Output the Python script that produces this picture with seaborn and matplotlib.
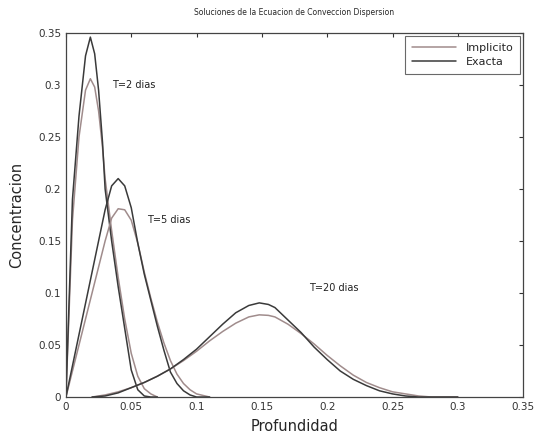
import matplotlib
matplotlib.use("Agg")
import matplotlib.pyplot as plt
import seaborn as sns
import numpy as np

# ---- data ----
x_t2 = [0.0, 0.005, 0.01, 0.015, 0.0187, 0.022, 0.025, 0.028, 0.03, 0.035, 0.04, 0.045, 0.05, 0.055, 0.06, 0.065, 0.07]
exact_t2 = [0.0, 0.19, 0.27, 0.328, 0.346, 0.33, 0.295, 0.245, 0.20, 0.15, 0.106, 0.066, 0.026, 0.007, 0.001, 0.0, 0.0]
impl_t2 = [0.0, 0.17, 0.25, 0.295, 0.306, 0.298, 0.275, 0.24, 0.21, 0.16, 0.115, 0.075, 0.042, 0.02, 0.008, 0.003, 0.0]

x_t5 = [0.0, 0.01, 0.02, 0.03, 0.035, 0.04, 0.045, 0.05, 0.055, 0.06, 0.065, 0.07, 0.075, 0.08, 0.085, 0.09, 0.095, 0.1, 0.11]
exact_t5 = [0.0, 0.06, 0.12, 0.18, 0.203, 0.21, 0.203, 0.182, 0.148, 0.118, 0.093, 0.068, 0.045, 0.024, 0.013, 0.006, 0.002, 0.0, 0.0]
impl_t5 = [0.0, 0.05, 0.10, 0.15, 0.172, 0.181, 0.18, 0.17, 0.148, 0.12, 0.095, 0.072, 0.052, 0.035, 0.022, 0.013, 0.007, 0.003, 0.0]

x_t20 = [0.02, 0.03, 0.04, 0.05, 0.06, 0.07, 0.08, 0.09, 0.10, 0.11, 0.12, 0.13, 0.14, 0.148, 0.155, 0.16, 0.17,
         0.18, 0.19, 0.20, 0.21, 0.22, 0.23, 0.24, 0.25, 0.26, 0.27, 0.28, 0.30]
exact_t20 = [0.0, 0.001, 0.004, 0.009, 0.014, 0.02, 0.027, 0.036, 0.046, 0.058, 0.07, 0.081, 0.088, 0.0905, 0.089,
             0.086, 0.074, 0.062, 0.048, 0.036, 0.025, 0.017, 0.011, 0.006, 0.003, 0.001, 0.0, 0.0, 0.0]
impl_t20 = [0.0, 0.002, 0.005, 0.009, 0.014, 0.02, 0.027, 0.035, 0.044, 0.054, 0.063, 0.071, 0.077, 0.079, 0.0785,
            0.077, 0.07, 0.061, 0.051, 0.04, 0.03, 0.021, 0.014, 0.009, 0.005, 0.003, 0.001, 0.0, 0.0]

curves = [(x_t2, impl_t2, exact_t2), (x_t5, impl_t5, exact_t5), (x_t20, impl_t20, exact_t20)]

labels = [("T=2 dias", 0.035, 0.300), ("T=5 dias", 0.062, 0.170), ("T=20 dias", 0.186, 0.105)]
xticks = [0, 0.05, 0.1, 0.15, 0.2, 0.25, 0.3, 0.35]
xticklabels = ["0", "0.05", "0.1", "0.15", "0.2", "0.25", "0.3", "0.35"]
yticks = [0, 0.05, 0.1, 0.15, 0.2, 0.25, 0.3, 0.35]
yticklabels = ["0", "0.05", "0.1", "0.15", "0.2", "0.25", "0.3", "0.35"]

sns.set_style("white")
plt.rcParams['font.family'] = ['DejaVu Sans']

fig = plt.figure(figsize=(5.36, 4.36), dpi=100)
ax = fig.add_axes([0.123, 0.0894, 0.853, 0.835])

impl_color = "#a08c8c"
exact_color = "#3a3a3a"
for i, (xs, yi, ye) in enumerate(curves):
    sns.lineplot(x=xs, y=yi, ax=ax, color=impl_color, linewidth=1.1, sort=False,
                 label="Implicito" if i == 0 else None)
    sns.lineplot(x=xs, y=ye, ax=ax, color=exact_color, linewidth=1.1, sort=False,
                 label="Exacta" if i == 0 else None)

for txt, tx, ty in labels:
    ax.text(tx, ty, txt, fontsize=7, color="#222222", va="center", ha="left")

ax.set_xlim(0, 0.35)
ax.set_ylim(0, 0.35)
ax.set_xticks(xticks)
ax.set_xticklabels(xticklabels)
ax.set_yticks(yticks)
ax.set_yticklabels(yticklabels)
ax.tick_params(direction="in", length=3, labelsize=7.5, top=True, right=True, colors="#333333")
for s in ax.spines.values():
    s.set_color("#444444")
    s.set_linewidth(0.9)

ax.set_xlabel("Profundidad", fontsize=10.5, labelpad=5)
ax.set_ylabel("Concentracion", fontsize=10.5, labelpad=10)
ax.set_title("Soluciones de la Ecuacion de Conveccion Dispersion", fontsize=5.5, pad=13)

leg = ax.legend(loc="upper right", fontsize=8, frameon=True, fancybox=False,
                edgecolor="#444444", handlelength=4.0, borderpad=0.6, labelspacing=0.35,
                borderaxespad=0.3)
leg.get_frame().set_linewidth(0.8)

fig.savefig("out.png", dpi=100)
